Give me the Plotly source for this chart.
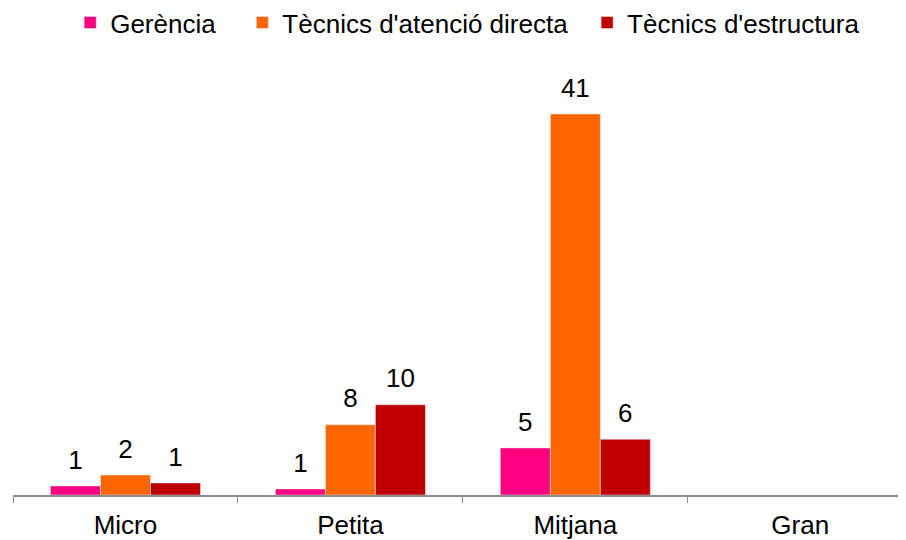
import plotly.graph_objects as go

categories = ["Micro", "Petita", "Mitjana", "Gran"]
series_names = ["Gerència", "Tècnics d'atenció directa", "Tècnics d'estructura"]
gerencia = [0.97, 0.65, 5.06, None]
atencio = [2.15, 7.55, 41.0, None]
estructura = [1.3, 9.7, 6.0, None]
colors = ["#FF0080", "#FF6600", "#C00000"]

LABEL_PAD = 0.9  # invisible spacer (data units) lifting the value labels above bars
NBSP = "\u00a0"
legend_spacing = [3, 2, 0]  # extra trailing spaces to widen legend entries

fig = go.Figure()
for i, (name, vals, col) in enumerate(zip(series_names, [gerencia, atencio, estructura], colors)):
    fig.add_trace(go.Bar(
        x=categories, y=vals, name=name + NBSP * legend_spacing[i], marker_color=col,
        offsetgroup=str(i), hovertemplate=name + ": %{y}<extra></extra>",
    ))
for i, vals in enumerate([gerencia, atencio, estructura]):
    fig.add_trace(go.Bar(
        x=categories, base=vals,
        y=[LABEL_PAD if v is not None else None for v in vals],
        offsetgroup=str(i), showlegend=False, hoverinfo="skip",
        marker=dict(color="rgba(0,0,0,0)", line=dict(width=0)),
        text=[f"{v:.0f}" if v is not None else "" for v in vals],
        textposition="outside",
        textfont=dict(size=26, color="#000000", family="Liberation Sans, Arial"),
        cliponaxis=False,
    ))

fig.update_layout(
    width=898, height=532, autosize=False,
    barmode="group", bargap=0.333, bargroupgap=0,
    plot_bgcolor="white", paper_bgcolor="white",
    font=dict(family="Liberation Sans, Arial", size=26, color="#000000"),
    margin=dict(l=5, r=0, t=52, b=45, autoexpand=False),
    legend=dict(orientation="h", x=0.064, xanchor="left", yref="paper",
                y=1.14, yanchor="top",
                font=dict(size=26), itemwidth=30, traceorder="normal"),
    xaxis=dict(type="category", categoryorder="array", categoryarray=categories,
               range=[-0.5, 3.47], showline=True, linecolor="#8C8C8C", linewidth=2,
               ticks="outside", tickson="boundaries", ticklen=6, tickcolor="#8C8C8C",
               tickwidth=1, showgrid=False, tickfont=dict(size=26),
               ticklabelstandoff=6, automargin=False),
    yaxis=dict(range=[0, 46.8], visible=False, showgrid=False, automargin=False),
)

fig.write_html("out.html")
